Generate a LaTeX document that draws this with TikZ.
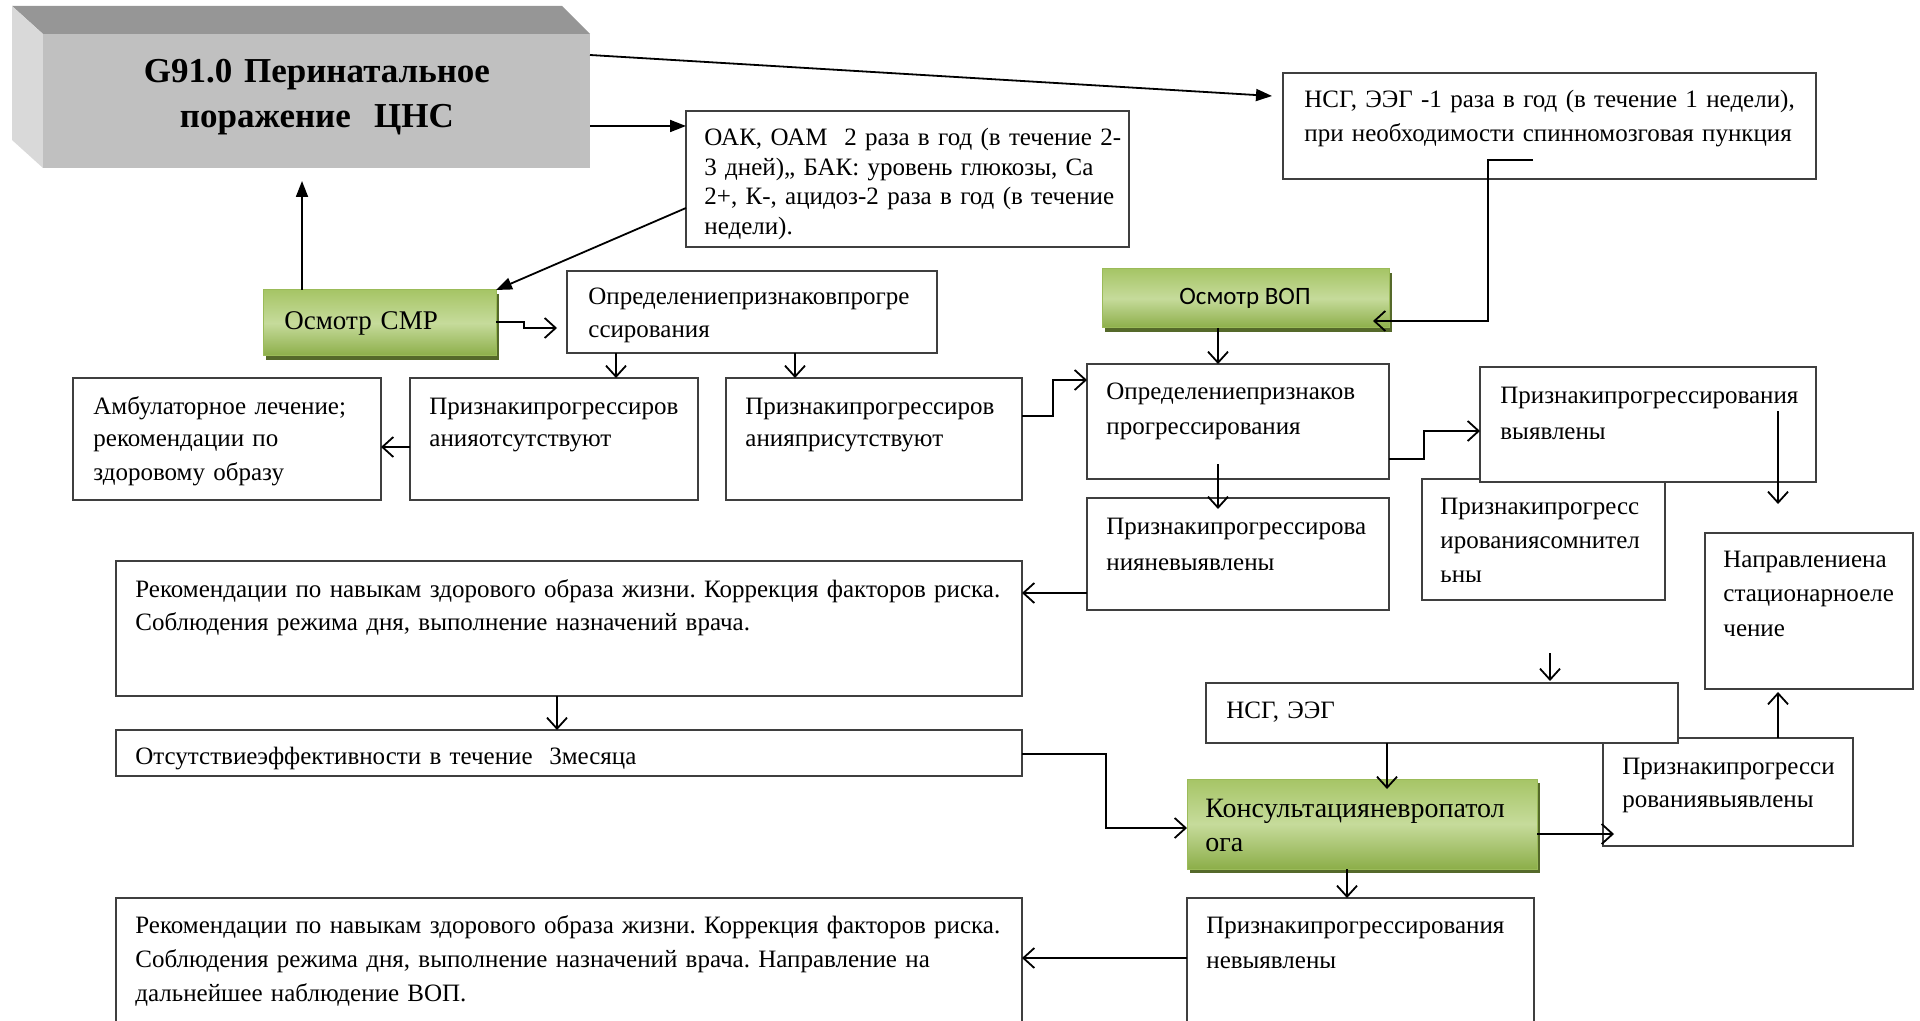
\documentclass[tikz,border=0pt]{standalone}
\usepackage{fontspec}
\setmainfont{Liberation Serif}
\newfontfamily\calibfont{Carlito}
\usetikzlibrary{arrows.meta,calc,shadows}
\frenchspacing

\definecolor{boxline}{HTML}{3F3F3F}
\definecolor{grtop}{HTML}{A6C566}
\definecolor{grmid}{HTML}{C6DB9B}
\definecolor{grbot}{HTML}{8CAE49}
\definecolor{grborder}{HTML}{9BBB59}
\definecolor{grshadow}{HTML}{55692A}
\definecolor{cnsfront}{HTML}{C0C0C0}
\definecolor{cnstop}{HTML}{969696}
\definecolor{cnsside}{HTML}{D9D9D9}

\newcommand\fs[2]{\fontsize{#1}{#2}\selectfont}
% box named #2 with corners (#3,#4) and (#5,#6), in pixel units
\newcommand\boxnode[6][]{%
  \node[box,#1,minimum width={(#5-#3)*0.5pt},minimum height={(#6-#4)*0.5pt}] (#2) at (#3,#4) {};}

\tikzset{
  box/.style={draw=boxline, line width=0.75pt, fill=white, anchor=north west,
    inner sep=0pt, outer sep=0pt},
  greenbox/.style={draw=grborder, line width=0.5pt, top color=grtop,
    bottom color=grbot, middle color=grmid,
    drop shadow={shadow xshift=1.5pt, shadow yshift=-2pt, fill=grshadow, opacity=1}},
  txt/.style={anchor=base west, inner sep=0pt, align=left, text width=600pt, yshift=-2pt},
  conn/.style={line width=0.9pt, -{Straight Barb[length=5.5pt,width=10pt]}},
  fconn/.style={line width=0.9pt, -{Triangle[length=8pt,width=6pt]}},
}

\begin{document}
\begin{tikzpicture}[x=0.5pt, y=-0.5pt]
\useasboundingbox (0,0) rectangle (1920,1021);
\begin{scope}
\clip (0,0) rectangle (1920,1021);

% --- 3D title block ---
\fill[cnstop] (12,6) -- (562,6) -- (590,34) -- (43,34) -- cycle;
\fill[cnsside] (12,6) -- (43,34) -- (43,168) -- (12,140) -- cycle;
\boxnode[draw=none, fill=cnsfront]{cns}{43}{34}{590}{168}
\node[anchor=base, align=center, text width=500pt, inner sep=0pt, yshift=-2.5pt,
  font=\bfseries\fs{17.5}{22.5}] (cnst) at (317,78) {G91.0 Перинатальное\\поражение\ \ ЦНС};

% --- boxes ---
\boxnode{oak}{686}{111}{1129}{247}
\boxnode{nsg1}{1283}{73}{1816}{179}
\boxnode[greenbox]{smr}{263}{290}{496}{356}
\boxnode{opr1}{567}{271}{937}{353}
\boxnode[greenbox]{vop}{1102}{269}{1389}{328}
\boxnode{amb}{73}{378}{381}{500}
\boxnode{otsut}{410}{378}{698}{500}
\boxnode{prisut}{726}{378}{1022}{500}
\boxnode{opr2}{1087}{364}{1389}{479}
\boxnode{somn}{1422}{479}{1665}{600}
\boxnode{vyyav}{1480}{367}{1816}{482}
\boxnode{nevyav1}{1087}{498}{1389}{610}
\boxnode{napr}{1705}{533}{1913}{689}
\boxnode{rek1}{116}{561}{1022}{696}
\boxnode{otsef}{116}{730}{1022}{776}
\boxnode{vyyav2}{1603}{738}{1853}{846}
\boxnode{nsg2}{1206}{683}{1678}{743}
\boxnode[greenbox]{kons}{1187}{779}{1537}{869}
\boxnode{nevyav2}{1187}{898}{1534}{1060}
\boxnode{rek2}{116}{898}{1022}{1060}

% --- texts ---
\node[txt, font=\fs{12.5}{14.7}] (oakt) at (704,142)
  {ОАК, ОАМ\ \ 2 раза в год (в течение 2-\\3 дней),, БАК: уровень глюкозы, Са\\2+, К-, ацидоз-2 раза в год (в течение\\недели).};
\node[txt, font=\fs{12.5}{17}] (nsg1t) at (1304,104)
  {НСГ, ЭЭГ -1 раза в год (в течение 1 недели),\\при необходимости спинномозговая пункция};
\node[txt, font=\fs{13.5}{16}] (smrt) at (284,325) {Осмотр СМР};
\node[txt, font=\fs{12.5}{16.5}] (opr1t) at (588,301) {Определениепризнаковпрогре\\ссирования};
\node[anchor=base, inner sep=0pt, yshift=-1.5pt, font=\calibfont\fs{12.5}{15}] (vopt) at (1245,302) {Осмотр ВОП};
\node[txt, font=\fs{12.5}{16.5}] (ambt) at (93,410)
  {Амбулаторное лечение;\\рекомендации по\\здоровому образу};
\node[txt, font=\fs{12.5}{16.5}] (otsutt) at (429,410) {Признакипрогрессиров\\анияотсутствуют};
\node[txt, font=\fs{12.5}{16.5}] (prisutt) at (745,410) {Признакипрогрессиров\\анияприсутствуют};
\node[txt, font=\fs{12.5}{17.5}] (opr2t) at (1106,395) {Определениепризнаков\\прогрессирования};
\node[txt, font=\fs{12.5}{18}] (vyyavt) at (1500,399) {Признакипрогрессирования\\выявлены};
\node[txt, font=\fs{12.5}{18}] (nevyav1t) at (1106,530) {Признакипрогрессирова\\нияневыявлены};
\node[txt, font=\fs{12.5}{17}] (somnt) at (1440,510) {Признакипрогресс\\ированиясомнител\\ьны};
\node[txt, font=\fs{12.5}{17.25}] (naprt) at (1723,563) {Направлениена\\стационарноеле\\чение};
\node[txt, font=\fs{12.5}{16.5}] (rek1t) at (135,593)
  {Рекомендации по навыкам здорового образа жизни. Коррекция факторов риска.\\Соблюдения режима дня, выполнение назначений врача.};
\node[txt, font=\fs{12.5}{16.5}] (otseft) at (135,760) {Отсутствиеэффективности в течение\ \ 3месяца};
\node[txt, font=\fs{12.5}{16.5}] (nsg2t) at (1226,714) {НСГ, ЭЭГ};
\node[txt, font=\fs{12.5}{16.5}] (vyyav2t) at (1622,770) {Признакипрогресси\\рованиявыявлены};
\node[txt, font=\fs{14}{17}] (konst) at (1205,813) {Консультацияневропатол\\ога};
\node[txt, font=\fs{12.5}{17.5}] (nevyav2t) at (1206,929) {Признакипрогрессирования\\невыявлены};
\node[txt, font=\fs{12.5}{17}] (rek2t) at (135,929)
  {Рекомендации по навыкам здорового образа жизни. Коррекция факторов риска.\\Соблюдения режима дня, выполнение назначений врача. Направление на\\дальнейшее наблюдение ВОП.};

% --- connectors ---
\draw[fconn] ($(cns.north east)+(0,21)$) -- ($(nsg1.north west)+(-11,23)$);
\draw[fconn] ($(cns.north east)+(0,92)$) -- ($(oak.north west)+(0,15)$);
\draw[fconn] ($(oak.north west)+(0,97)$) -- (smr.north east);
\draw[fconn] ($(smr.north west)+(39,0)$) -- ($(cns.south west)+(259,13)$);

\draw[conn] ($(smr.north east)+(0,32)$) -- ++(28,0) -- ++(0,6) -- ($(opr1.north west)+(-10,57)$);
\draw[conn] ($(opr1.south west)+(49,0)$) -- ($(otsut.north west)+(206,0)$);
\draw[conn] ($(opr1.south west)+(228,0)$) -- ($(prisut.north west)+(69,0)$);
\draw[conn] ($(otsut.north west)+(0,69)$) -- ($(amb.north east)+(0,69)$);
\draw[conn] ($(prisut.north east)+(0,38)$) -- ++(31,0) |- ($(opr2.north west)+(0,16)$);
\draw[conn] ($(vop.south west)+(116,0)$) -- ($(opr2.north west)+(131,0)$);
\draw[conn] ($(nsg1.south west)+(250,-19)$) -| ($(vop.north east)+(99,52)$) -- ($(vop.north east)+(-16,52)$);
\draw[conn] ($(opr2.north east)+(0,95)$) -- ++(35,0) |- ($(vyyav.north west)+(0,64)$);
\draw[conn] ($(opr2.north west)+(131,100)$) -- ($(nevyav1.north west)+(131,11)$);
\draw[conn] ($(vyyav.north west)+(298,44)$) -- ($(napr.north west)+(73,-29)$);
\draw[conn] ($(nevyav1.north west)+(0,95)$) -- ($(rek1.north east)+(0,32)$);
\draw[conn] ($(rek1.south west)+(441,0)$) -- ($(otsef.north west)+(441,0)$);
\draw[conn] ($(otsef.north east)+(0,24)$) -- ++(84,0) |- ($(kons.north west)+(0,49)$);
\draw[conn] ($(nsg2.north west)+(344,-30)$) -- ($(nsg2.north west)+(344,-2)$);
\draw[conn] ($(nsg2.south west)+(181,0)$) -- ($(kons.north west)+(200,10)$);
\draw[conn] ($(kons.north east)+(0,55)$) -- ($(vyyav2.north west)+(11,96)$);
\draw[conn] ($(vyyav2.north west)+(175,0)$) -- ($(napr.south west)+(73,3)$);
\draw[conn] ($(kons.south west)+(160,0)$) -- ($(nevyav2.north west)+(160,0)$);
\draw[conn] ($(nevyav2.north west)+(0,60)$) -- ($(rek2.north east)+(0,60)$);
\end{scope}
\end{tikzpicture}
\end{document}
